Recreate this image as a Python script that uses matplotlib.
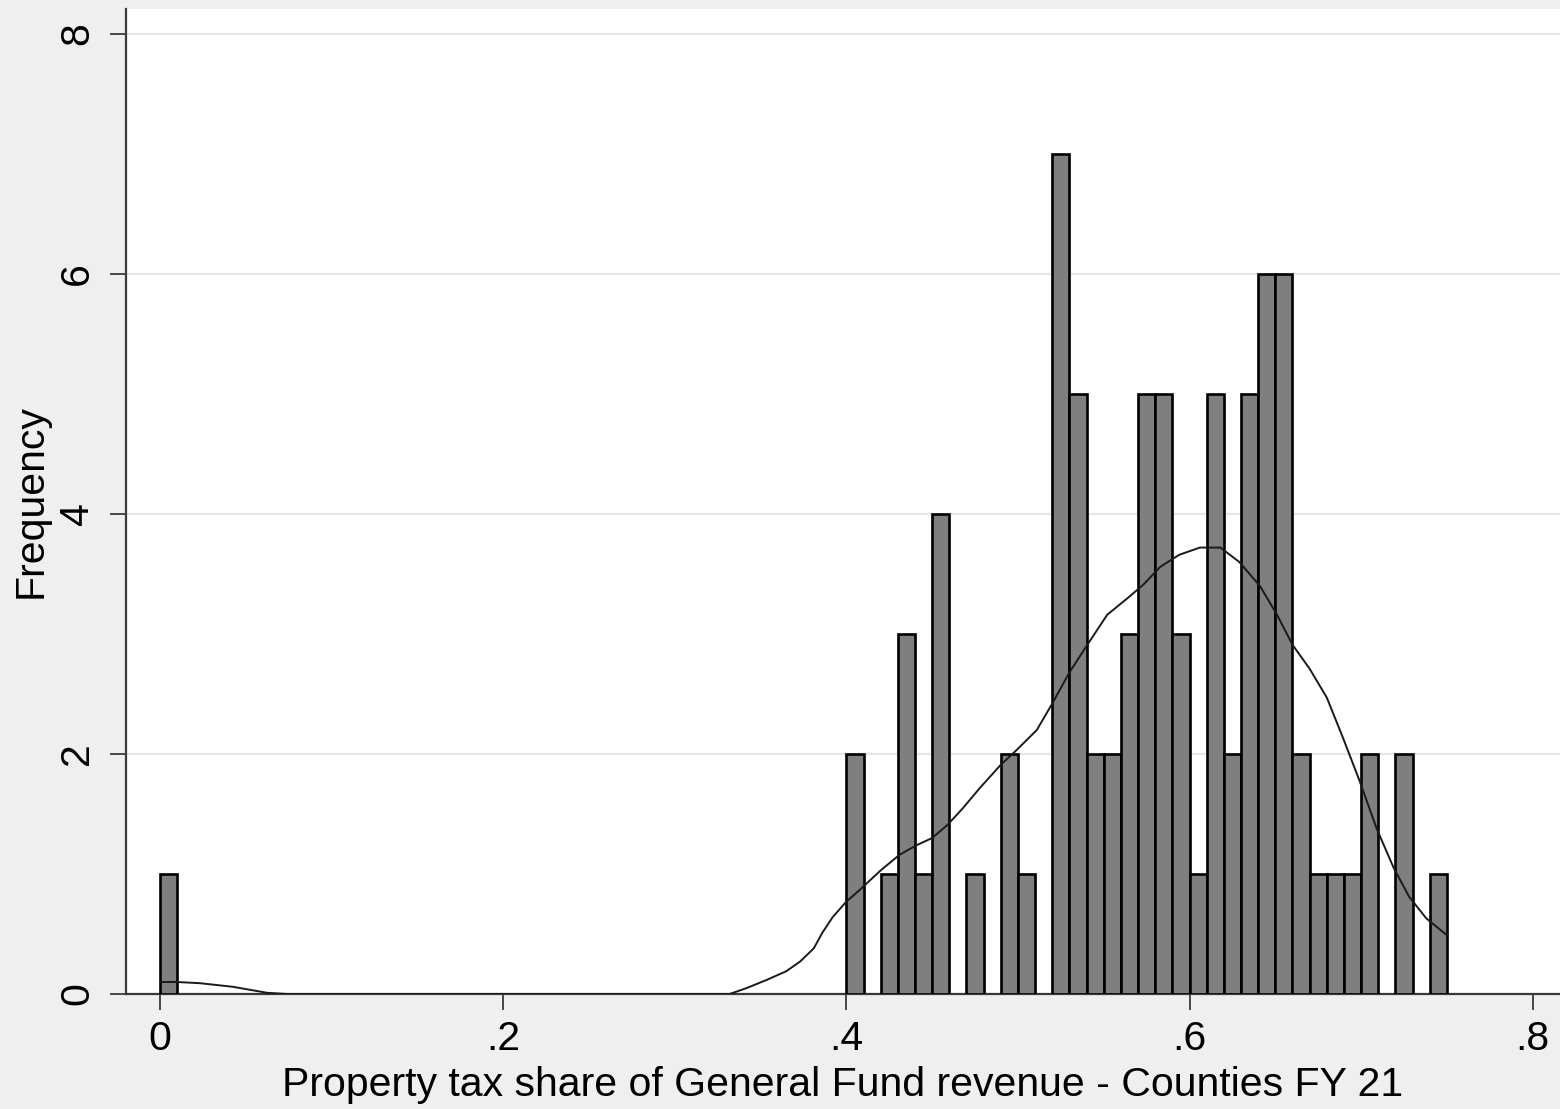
import matplotlib
matplotlib.use("Agg")
import matplotlib.pyplot as plt

# ---- data ----
bin_width = 0.01
bin_left = [0.00, 0.40, 0.42, 0.43, 0.44, 0.45, 0.47, 0.49, 0.50, 0.52, 0.53, 0.54,
            0.55, 0.56, 0.57, 0.58, 0.59, 0.60, 0.61, 0.62, 0.63, 0.64, 0.65, 0.66,
            0.67, 0.68, 0.69, 0.70, 0.72, 0.74]
counts = [1, 2, 1, 3, 1, 4, 1, 2, 1, 7, 5, 2,
          2, 3, 5, 5, 3, 1, 5, 2, 5, 6, 6, 2,
          1, 1, 1, 2, 2, 1]

# kernel density curve (scaled to frequency)
kde_x = [0.0006, 0.0099, 0.0233, 0.0425, 0.0624, 0.074, 0.332, 0.342, 0.354, 0.365,
         0.373, 0.381, 0.386, 0.392, 0.400, 0.408, 0.420, 0.431, 0.441, 0.450,
         0.459, 0.468, 0.478, 0.490, 0.499, 0.511, 0.520, 0.530, 0.540, 0.552,
         0.564, 0.573, 0.583, 0.594, 0.606, 0.618, 0.629, 0.641, 0.651, 0.660,
         0.670, 0.680, 0.689, 0.699, 0.709, 0.719, 0.728, 0.738, 0.750]
kde_y = [0.10, 0.10, 0.09, 0.06, 0.01, 0.0, 0.0, 0.05, 0.12, 0.19,
         0.27, 0.38, 0.51, 0.64, 0.77, 0.87, 1.03, 1.16, 1.24, 1.30,
         1.41, 1.55, 1.72, 1.91, 2.03, 2.20, 2.42, 2.68, 2.90, 3.16,
         3.30, 3.41, 3.56, 3.66, 3.72, 3.72, 3.60, 3.40, 3.16, 2.91,
         2.71, 2.47, 2.15, 1.78, 1.38, 1.05, 0.81, 0.63, 0.49]

x_ticks = [0, 0.2, 0.4, 0.6, 0.8]
x_ticklabels = ["0", ".2", ".4", ".6", ".8"]
y_ticks = [0, 2, 4, 6, 8]
y_ticklabels = ["0", "2", "4", "6", "8"]
x_title = "Property tax share of General Fund revenue - Counties FY 21"
y_title = "Frequency"

# ---- styling ----
plt.rcParams["font.family"] = ["Liberation Sans", "DejaVu Sans"]
bg = "#efefef"
fs = 29.5

fig = plt.figure(figsize=(15.6, 11.09), dpi=100, facecolor=bg)
ax = fig.add_axes([126 / 1560, (1109 - 994) / 1109, 1 - 126 / 1560, (994 - 9) / 1109])
ax.set_facecolor("white")

ax.bar(bin_left, counts, width=bin_width, align="edge", color="#7f7f7f",
       edgecolor="black", linewidth=1.9, zorder=3)
ax.plot(kde_x, kde_y, color="#1a1a1a", linewidth=1.4, zorder=4,
        solid_joinstyle="round")

ax.set_xlim(-0.0198, 0.8159)
ax.set_ylim(0, 8.208)

ax.set_yticks(y_ticks)
ax.set_yticklabels(y_ticklabels, rotation=90, va="center")
ax.set_xticks(x_ticks)
ax.set_xticklabels(x_ticklabels)

ax.grid(axis="y", color="#e6e6e6", linewidth=1.6, zorder=0)
ax.set_axisbelow(True)

for s in ["top", "right"]:
    ax.spines[s].set_visible(False)
for s in ["left", "bottom"]:
    ax.spines[s].set_color("#3a3a3a")
    ax.spines[s].set_linewidth(1.6)

ax.tick_params(axis="both", length=11.5, width=1.3, color="#3a3a3a",
               labelsize=fs, labelcolor="black")
ax.tick_params(axis="y", pad=10)
ax.tick_params(axis="x", pad=7)

ax.set_xlabel(x_title, fontsize=fs, labelpad=6)
ax.set_ylabel(y_title, fontsize=fs, labelpad=6)

fig.savefig("out.png", dpi=100, facecolor=bg)
